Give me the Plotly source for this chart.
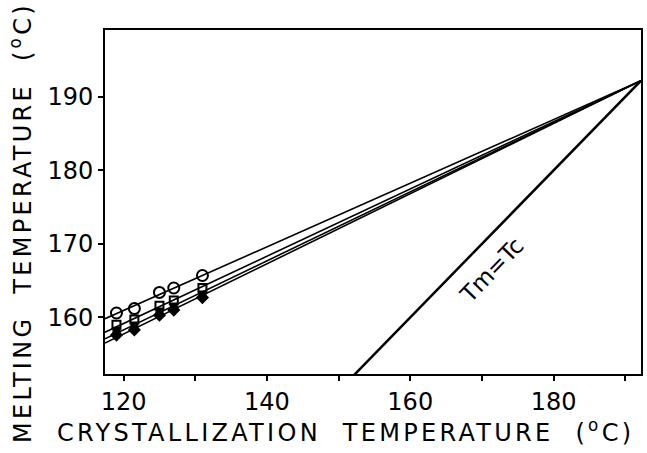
import numpy as np
import plotly.graph_objects as go

# Crystallization temperatures (°C) of the data points
tc = [119.0, 121.5, 125.0, 127.0, 131.0]
# Melting temperatures (°C) for each series
tm_circle = [160.6, 161.2, 163.4, 164.0, 165.7]
tm_square = [159.0, 159.7, 161.6, 162.3, 164.0]
tm_tri = [158.2, 158.9, 160.8, 161.5, 163.1]
tm_diam = [157.6, 158.3, 160.3, 161.0, 162.7]
# Equilibrium melting point where extrapolated lines meet Tm = Tc
tm0 = 192.2
x_range = [117.4, 192.2]
y_range = [152.3, 199.1]
x_ticks = [120, 130, 140, 150, 160, 170, 180, 190]
x_ticktext = ["120", "", "140", "", "160", "", "180", ""]
y_ticks = [160, 170, 180, 190]

FONT = "DejaVu Sans"
fig = go.Figure()

# Tm = Tc line
fig.add_trace(go.Scatter(x=[x_range[0], tm0], y=[x_range[0], tm0], mode="lines",
                         line=dict(color="black", width=2.5), showlegend=False))

series = [
    (tm_circle, "circle-open", 11),
    (tm_square, "square-open", 8),
    (tm_tri, "square", 6),
    (tm_diam, "diamond", 8),
]
for tm, sym, sz in series:
    x = np.array(tc)
    y = np.array(tm)
    # least squares line constrained through (tm0, tm0)
    dx = x - tm0
    dy = y - tm0
    slope = float(np.sum(dx * dy) / np.sum(dx * dx))
    lx = np.array([x_range[0], tm0])
    ly = tm0 + slope * (lx - tm0)
    fig.add_trace(go.Scatter(x=lx, y=ly, mode="lines",
                             line=dict(color="black", width=1.6), showlegend=False))
    fig.add_trace(go.Scatter(x=tc, y=tm, mode="markers",
                             marker=dict(symbol=sym, size=sz, color="black",
                                         line=dict(color="black", width=2)),
                             showlegend=False))

fig.add_annotation(x=171.4, y=166.4, text="Tm=Tc", showarrow=False, textangle=-46,
                   font=dict(family=FONT, size=23, color="black"))

LS = "<span style='letter-spacing:3.3px'>{}</span>"
fig.add_annotation(xref="paper", yref="paper", x=0.448, y=-0.165, xanchor="center", yanchor="middle",
                   text=LS.format("CRYSTALLIZATION  TEMPERATURE  (<sup>o</sup>C)"), showarrow=False,
                   font=dict(family=FONT, size=24, color="black"))
fig.add_annotation(xref="paper", yref="paper", x=-0.158, y=0.44, xanchor="center", yanchor="middle",
                   text=LS.format("MELTING  TEMPERATURE  (<sup>o</sup>C)"), showarrow=False, textangle=-90,
                   font=dict(family=FONT, size=24, color="black"))

axis_common = dict(showline=True, linewidth=2, linecolor="black", mirror=True,
                   ticks="outside", ticklen=5, tickwidth=2, tickcolor="black",
                   showgrid=False, zeroline=False,
                   tickfont=dict(family=FONT, size=24, color="black"))
fig.update_xaxes(range=x_range, tickvals=x_ticks, ticktext=x_ticktext, **axis_common)
fig.update_yaxes(range=y_range, tickvals=y_ticks, **axis_common)

fig.update_layout(width=647, height=453, margin=dict(l=105, r=4, t=30, b=79),
                  plot_bgcolor="white", paper_bgcolor="white",
                  font=dict(family=FONT))
fig.write_html("out.html")
